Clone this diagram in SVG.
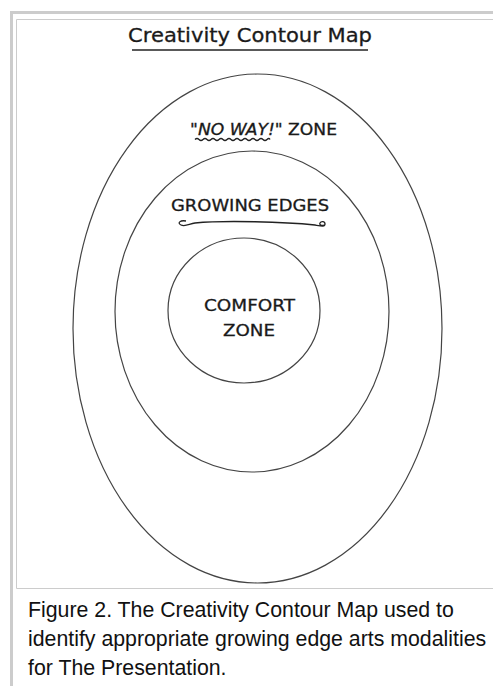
<svg xmlns="http://www.w3.org/2000/svg" width="493" height="686" viewBox="0 0 493 686">
<style>
.frame{fill:none;stroke:#cccccc}
.hand{font-family:"Comic Sans MS","DejaVu Sans",sans-serif;fill:#1a1a1a;stroke:#1a1a1a;stroke-width:0.3}
.zone{fill:none;stroke:#444444;stroke-width:1.2}
.cap{font-family:"Liberation Sans",Arial,sans-serif;font-size:21.3px;fill:#111}
.uline{fill:none;stroke:#222;stroke-width:1.3}
</style>
<rect x="0" y="0" width="493" height="686" fill="#ffffff"/>
<g id="frame">
<path class="frame" stroke-width="3" d="M11.5,686 V12.5 H493"/>
<path class="frame" stroke-width="1" d="M493,588.5 H16.5 V19.5 H493"/>
</g>
<g id="title">
<text class="hand" x="250" y="42" font-size="20" text-anchor="middle" textLength="244" lengthAdjust="spacingAndGlyphs">Creativity Contour Map</text>
<line x1="132" y1="50" x2="368" y2="50" stroke="#222" stroke-width="1.6"/>
</g>
<g id="no-way-zone">
<ellipse class="zone" cx="257.5" cy="328.5" rx="184.5" ry="254.5"/>
<text class="hand" x="190" y="135" font-size="15" textLength="147" lengthAdjust="spacingAndGlyphs"><tspan font-style="italic">"NO WAY!"</tspan> ZONE</text>
<path class="uline" d="M195,139.5 q2,-2 4,0 t4,0 t4,0 t4,0 t4,0 t4,0 t4,0 t4,0 t4,0 t4,0 t4,0 t4,0 t4,0 t4,0 t4,0 t4,0 t4,0 t4,0 t3,0"/>
</g>
<g id="growing-edges">
<ellipse class="zone" cx="252" cy="311.5" rx="137" ry="160.5"/>
<text class="hand" x="171" y="211" font-size="16" textLength="158" lengthAdjust="spacingAndGlyphs">GROWING EDGES</text>
<path class="uline" d="M186,221 c-6,-1 -9,2 -5,4 c4,2 8,-1 14,-2 c30,-3 90,-1 120,2 c6,1 10,2 10,-1 c0,-3 -4,-3 -5,-1 c-1,2 2,3 4,2"/>
</g>
<g id="comfort-zone">
<ellipse class="zone" cx="244" cy="310.5" rx="76" ry="72.5"/>
<text class="hand" x="249.5" y="311" font-size="16" text-anchor="middle" textLength="91" lengthAdjust="spacingAndGlyphs">COMFORT</text>
<text class="hand" x="249" y="336" font-size="16" text-anchor="middle" textLength="52" lengthAdjust="spacingAndGlyphs">ZONE</text>
</g>
<g id="caption">
<text class="cap" x="28" y="617">Figure 2. The Creativity Contour Map used to</text>
<text class="cap" x="28" y="646">identify appropriate growing edge arts modalities</text>
<text class="cap" x="28" y="675">for The Presentation.</text>
</g>
</svg>
